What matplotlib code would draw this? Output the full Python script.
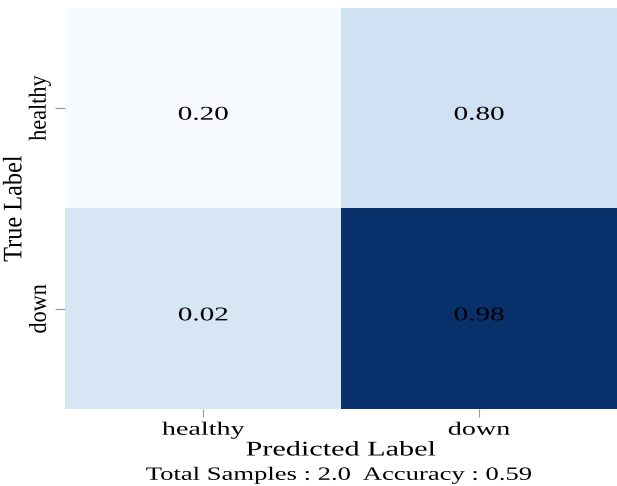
import numpy as np
import matplotlib
matplotlib.use("Agg")
import matplotlib.pyplot as plt
from matplotlib.patheffects import AbstractPathEffect
from matplotlib.transforms import Affine2D

# 混淆矩阵数据
labels = ["healthy", "down"]
cm_values = [[0.20, 0.80],
             [0.02, 0.98]]
# 每个格子的颜色深浅（从图中估计）
cell_shade = [[0.00, 0.20],
              [0.16, 1.00]]
total_samples = 2.0
accuracy = 0.59


class HStretch(AbstractPathEffect):
    # 原图文字被横向拉宽，这里按中心横向拉伸字形
    def __init__(self, sx=1.5):
        super().__init__()
        self.sx = sx

    def draw_path(self, renderer, gc, tpath, affine, rgbFace=None):
        bb = tpath.get_extents(affine)
        cx = (bb.x0 + bb.x1) / 2
        t = affine + Affine2D().translate(-cx, 0).scale(self.sx, 1).translate(cx, 0)
        renderer.draw_path(gc, tpath, t, rgbFace)


plt.rcParams['font.family'] = ['Liberation Serif', 'DejaVu Serif']
stretch = [HStretch(1.5)]

fig = plt.figure(figsize=(6.17, 4.86), dpi=100)
ax = fig.add_axes([0.106, 0.158, 0.894, 0.826])

ax.imshow(np.array(cell_shade), cmap="Blues", vmin=0, vmax=1, aspect="auto")

for i in range(len(labels)):
    for j in range(len(labels)):
        ax.text(j, i + 0.035, f"{cm_values[i][j]:.2f}", ha="center", va="center",
                fontsize=14, color="black", path_effects=stretch)

ax.set_xticks(range(len(labels)))
ax.set_yticks(range(len(labels)))
ax.set_xticklabels(labels, fontsize=13.5)
ax.set_yticklabels(labels, fontsize=16, rotation=90, va="center")
for lab in ax.get_xticklabels():
    lab.set_path_effects(stretch)
for lab in ax.get_yticklabels():
    lab.set_path_effects([HStretch(1.1)])
ax.tick_params(axis="x", length=6, color="#999999", pad=3)
ax.tick_params(axis="y", length=7, color="#999999", pad=4)
for s in ax.spines.values():
    s.set_visible(False)

ax.set_xlabel("Predicted Label", fontsize=15, labelpad=2, path_effects=[HStretch(1.45)])
fig.text(0.55, 0.022, f"Total Samples : {total_samples}  Accuracy : {accuracy}",
         ha="center", va="center", fontsize=13.5, path_effects=[HStretch(1.42)])
ax.set_ylabel("True Label", fontsize=17.5, labelpad=4, path_effects=[HStretch(1.1)])

fig.savefig("out.png", dpi=100)
